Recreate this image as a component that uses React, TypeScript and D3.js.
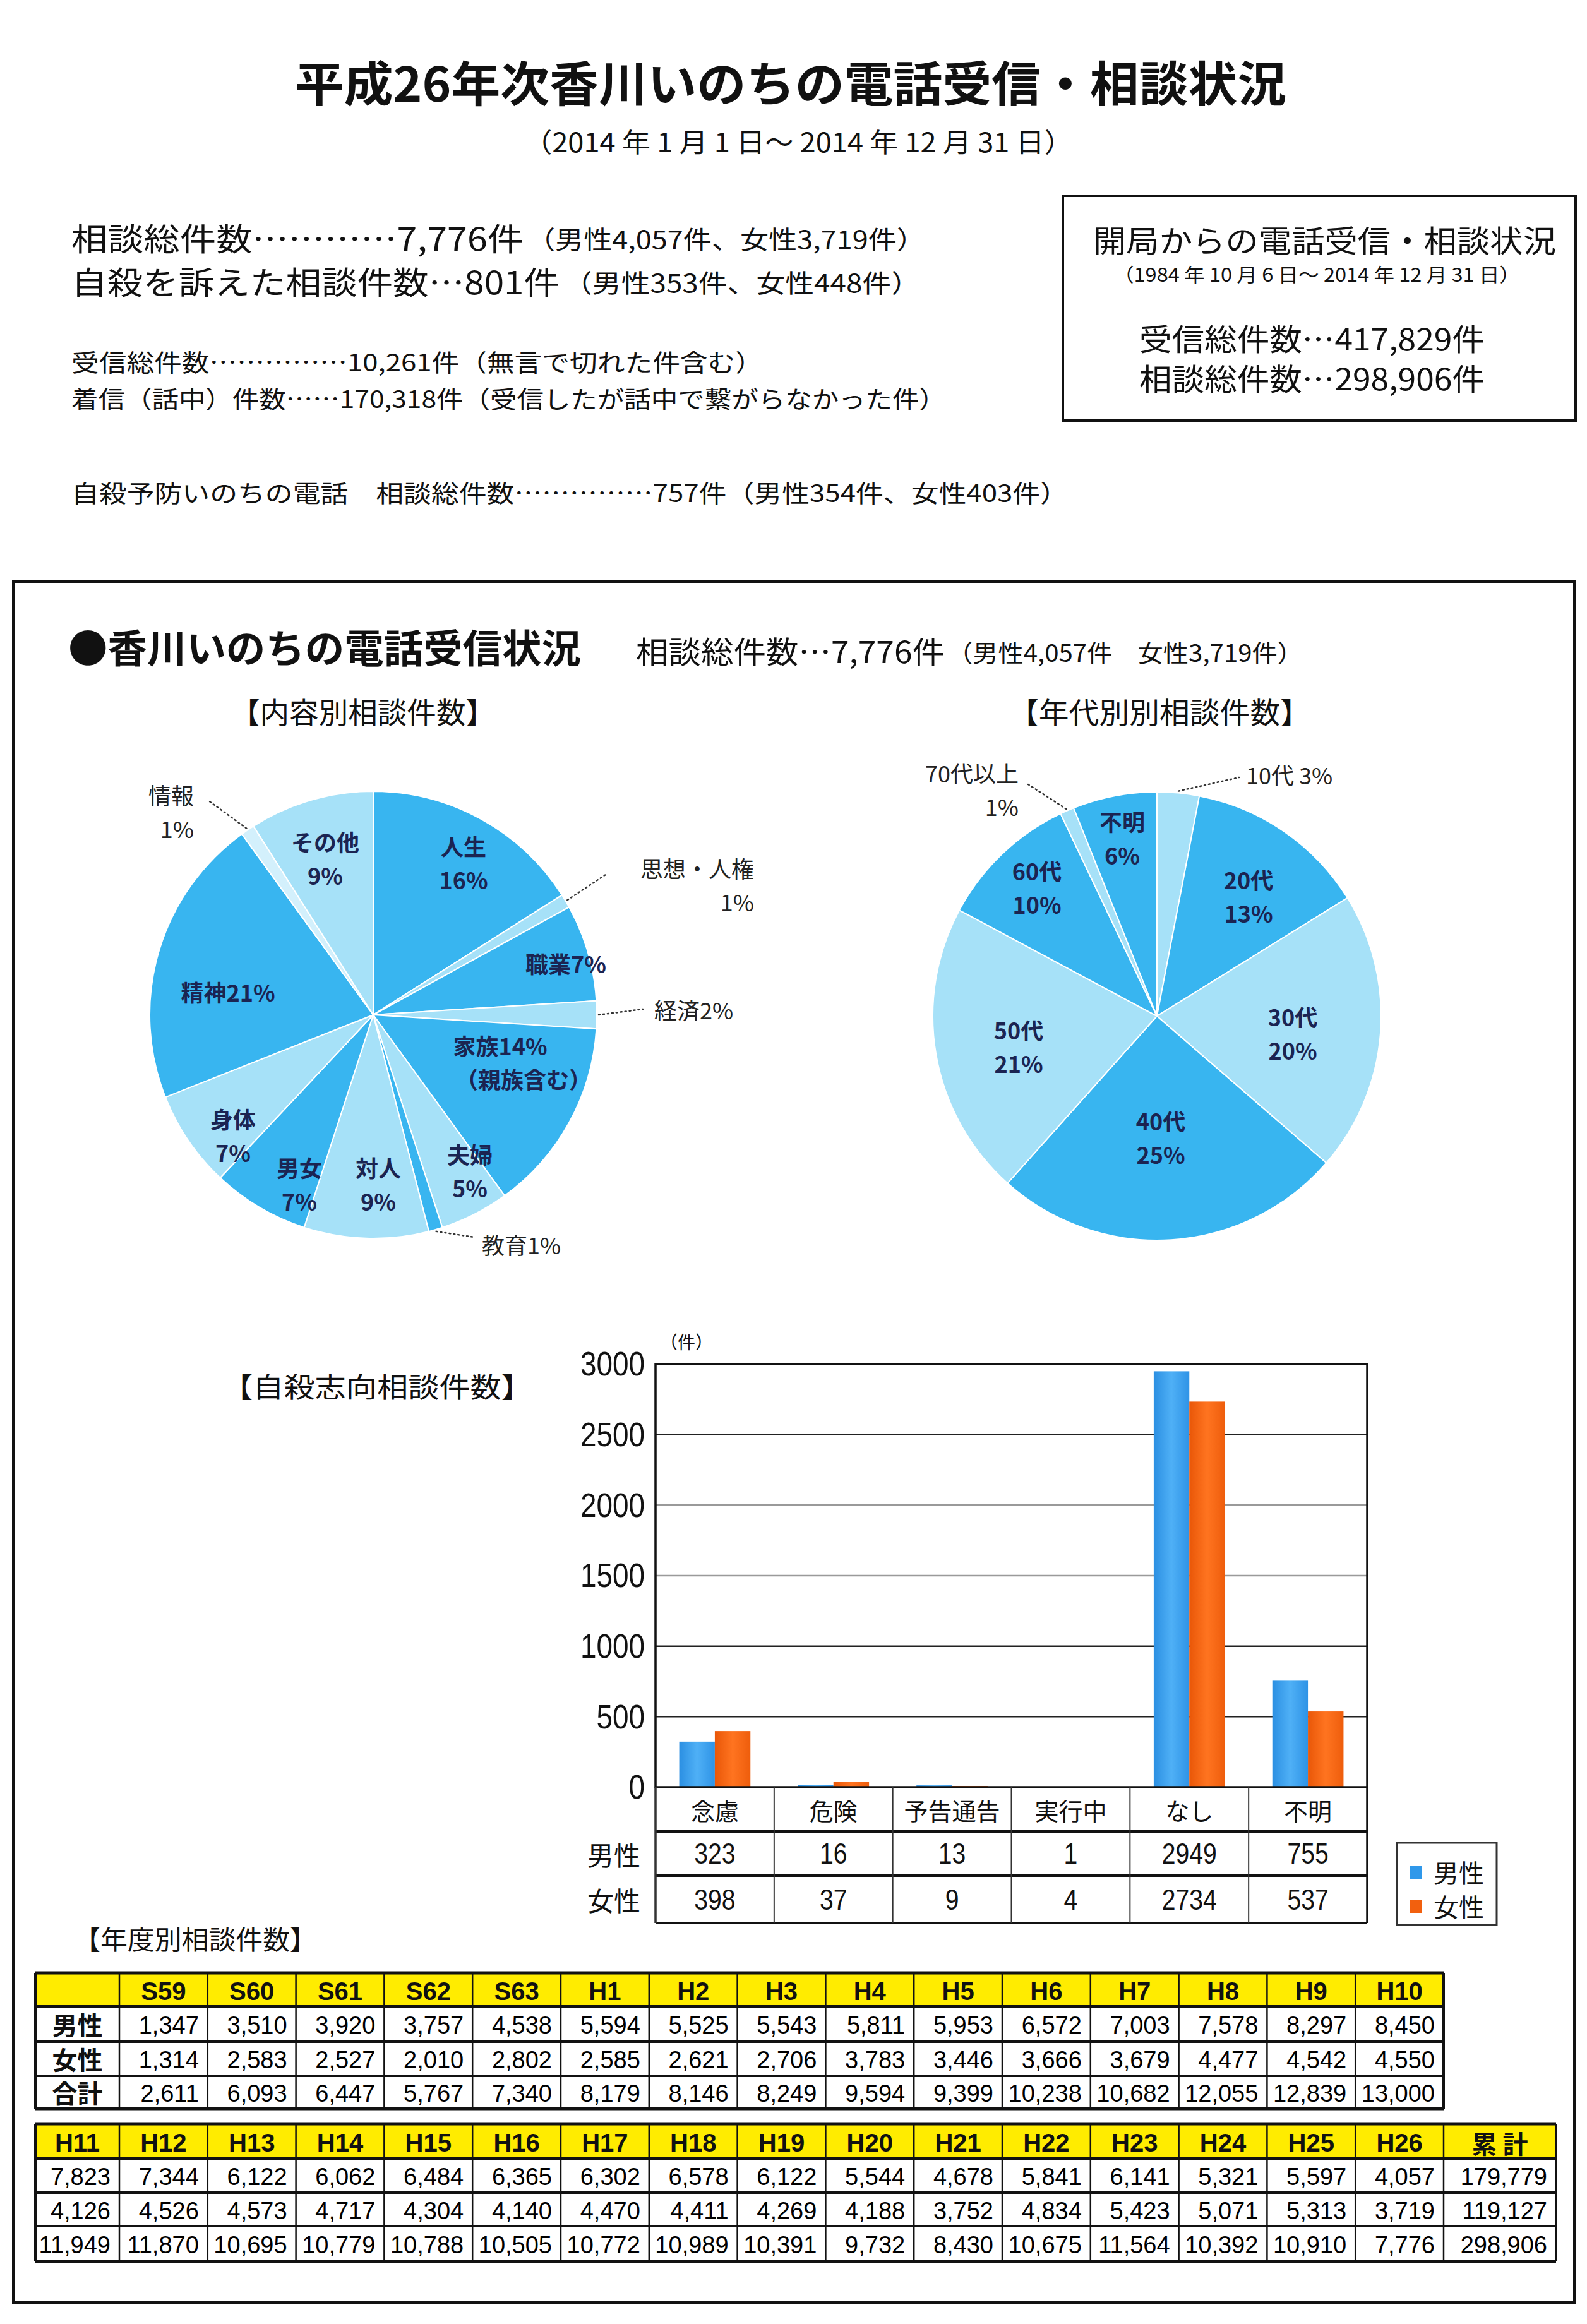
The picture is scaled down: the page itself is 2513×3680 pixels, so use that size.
import React from "react";
import * as d3 from "d3";

const W = 2513;
const H = 3680;
const JP = "'Noto Sans CJK JP', 'Noto Sans', sans-serif";
const NUM = "'Liberation Sans', Arial, sans-serif";

// 内容別相談件数 (%)
const topicLabels = ["人生", "思想・人権", "職業", "経済", "家族", "夫婦", "教育", "対人", "男女", "身体", "精神", "情報", "その他"];
const topicPercents = [16, 1, 7, 2, 14, 5, 1, 9, 7, 7, 21, 1, 9];

// 年代別相談件数 (%)
const ageLabels = ["10代", "20代", "30代", "40代", "50代", "60代", "70代以上", "不明"];
const agePercents = [3, 13, 20, 25, 21, 10, 1, 6];

// 自殺志向相談件数
const suicideCategories = ["念慮", "危険", "予告通告", "実行中", "なし", "不明"];
const suicideMale = [323, 16, 13, 1, 2949, 755];
const suicideFemale = [398, 37, 9, 4, 2734, 537];
const suicideTicks = [0, 500, 1000, 1500, 2000, 2500, 3000];

// 年度別相談件数
const yearsA = ["S59", "S60", "S61", "S62", "S63", "H1", "H2", "H3", "H4", "H5", "H6", "H7", "H8", "H9", "H10"];
const maleA = ["1,347", "3,510", "3,920", "3,757", "4,538", "5,594", "5,525", "5,543", "5,811", "5,953", "6,572", "7,003", "7,578", "8,297", "8,450"];
const femaleA = ["1,314", "2,583", "2,527", "2,010", "2,802", "2,585", "2,621", "2,706", "3,783", "3,446", "3,666", "3,679", "4,477", "4,542", "4,550"];
const totalA = ["2,611", "6,093", "6,447", "5,767", "7,340", "8,179", "8,146", "8,249", "9,594", "9,399", "10,238", "10,682", "12,055", "12,839", "13,000"];

const yearsB = ["H11", "H12", "H13", "H14", "H15", "H16", "H17", "H18", "H19", "H20", "H21", "H22", "H23", "H24", "H25", "H26", "累 計"];
const maleB = ["7,823", "7,344", "6,122", "6,062", "6,484", "6,365", "6,302", "6,578", "6,122", "5,544", "4,678", "5,841", "6,141", "5,321", "5,597", "4,057", "179,779"];
const femaleB = ["4,126", "4,526", "4,573", "4,717", "4,304", "4,140", "4,470", "4,411", "4,269", "4,188", "3,752", "4,834", "5,423", "5,071", "5,313", "3,719", "119,127"];
const totalB = ["11,949", "11,870", "10,695", "10,779", "10,788", "10,505", "10,772", "10,989", "10,391", "9,732", "8,430", "10,675", "11,564", "10,392", "10,910", "7,776", "298,906"];

const DARK = "#38b5f0";
const LIGHT = "#a6e1f8";
const PALE = "#d3f0fc";
const topicTones = [DARK, LIGHT, DARK, LIGHT, DARK, LIGHT, DARK, LIGHT, DARK, LIGHT, DARK, PALE, LIGHT];
const ageTones = [LIGHT, DARK, LIGHT, DARK, LIGHT, DARK, LIGHT, DARK];

// label placement relative to each pie centre
const topicLabelLayout: any[] = [
  { dx: 143, dy: -265 },
  { dx: 603, dy: -230, anchor: "end", leader: [368, -222], outside: true },
  { dx: 305, dy: -82, one: true },
  { dx: 445, dy: -9, anchor: "start", one: true, leader: [427, -9], outside: true },
  { dx: 201, dy: 51, one: true, extra: "（親族含む）", extraDx: 37 },
  { dx: 153, dy: 223 },
  { dx: 172, dy: 363, anchor: "start", one: true, leader: [160, 352], outside: true },
  { dx: 8, dy: 244 },
  { dx: -117, dy: 244 },
  { dx: -222, dy: 167 },
  { dx: -230, dy: -37, one: true },
  { dx: -284, dy: -346, anchor: "end", leader: [-262, -340], outside: true },
  { dx: -76, dy: -272 },
];
const ageLabelLayout: any[] = [
  { dx: 141, dy: -383, anchor: "start", one: true, sep: " ", leader: [130, -378], outside: true },
  { dx: 145, dy: -214 },
  { dx: 215, dy: 3 },
  { dx: 6, dy: 168 },
  { dx: -219, dy: 24 },
  { dx: -190, dy: -228 },
  { dx: -219, dy: -383, anchor: "end", leader: [-207, -369], outside: true },
  { dx: -55, dy: -306 },
];

function Txt({ x, y, size, w, anchor = "start", weight = 400, family = JP, fill = "#111", children }: any) {
  return (
    <text
      x={x}
      y={y}
      fontSize={size}
      fontFamily={family}
      fontWeight={weight}
      textAnchor={anchor}
      dominantBaseline="central"
      fill={fill}
      textLength={w}
      lengthAdjust={w ? "spacingAndGlyphs" : undefined}
    >
      {children}
    </text>
  );
}

function Pie({ cx, cy, r, labels, values, tones, layout }: any) {
  const arcs = d3.pie<number>().sort(null).value((d) => d)(values);
  const arc = d3.arc<any>().innerRadius(0).outerRadius(r);
  const fs = 36;
  const lh = 53;
  return (
    <g transform={`translate(${cx},${cy})`}>
      {arcs.map((a, i) => (
        <path key={i} d={arc(a) || ""} fill={tones[i]} stroke="#ffffff" strokeWidth={2} />
      ))}
      {arcs.map((a, i) => {
        const L = layout[i];
        const pct = values[i] + "%";
        const anchor = L.anchor || "middle";
        const weight = L.outside ? 400 : 700;
        const fill = L.outside ? "#222" : "#1b2452";
        const mid = (a.startAngle + a.endAngle) / 2;
        const sx = Math.sin(mid) * (r + 3);
        const sy = -Math.cos(mid) * (r + 3);
        const first = L.one ? labels[i] + (L.sep || "") + pct : labels[i];
        const second = L.extra ? L.extra : L.one ? null : pct;
        const y0 = second ? L.dy - 3 : L.dy;
        return (
          <g key={"l" + i}>
            {L.leader && (
              <line x1={sx} y1={sy} x2={L.leader[0]} y2={L.leader[1]} stroke="#333" strokeWidth={2.5} strokeDasharray="2 5" strokeLinecap="round" />
            )}
            <text
              x={L.dx}
              y={y0}
              fontSize={fs}
              fontFamily={JP}
              fontWeight={weight}
              textAnchor={anchor}
              dominantBaseline="central"
              fill={fill}
            >
              <tspan x={L.dx}>{first}</tspan>
              {second && (
                <tspan x={L.dx + (L.extraDx || 0)} dy={lh}>
                  {second}
                </tspan>
              )}
            </text>
          </g>
        );
      })}
    </g>
  );
}

function BarChart() {
  const plot = { l: 1038, r: 2165, t: 2160, b: 2830 };
  const rowB = [2830, 2900, 2970, 3045];
  const x0 = d3.scaleBand().domain(suicideCategories).range([plot.l, plot.r]);
  const bw = x0.bandwidth();
  const x1 = d3.scaleBand().domain(["男性", "女性"]).range([bw * 0.2, bw * 0.8]);
  const y = d3.scaleLinear().domain([0, 3000]).range([plot.b, plot.t]);
  const series = [
    { key: "男性", values: suicideMale, fill: "url(#gMale)" },
    { key: "女性", values: suicideFemale, fill: "url(#gFemale)" },
  ];
  return (
    <g>
      <defs>
        <linearGradient id="gMale" x1="0" x2="1" y1="0" y2="0">
          <stop offset="0" stopColor="#2b8fe2" />
          <stop offset="0.5" stopColor="#4fb0f6" />
          <stop offset="1" stopColor="#2e93e6" />
        </linearGradient>
        <linearGradient id="gFemale" x1="0" x2="1" y1="0" y2="0">
          <stop offset="0" stopColor="#e95708" />
          <stop offset="0.5" stopColor="#ff7420" />
          <stop offset="1" stopColor="#ee5d0c" />
        </linearGradient>
      </defs>
      {suicideTicks.slice(1, -1).map((t) => (
        <line key={t} x1={plot.l} x2={plot.r} y1={y(t)} y2={y(t)} stroke={t === 1500 || t === 2000 ? "#9a9a9a" : "#222"} strokeWidth={2.5} />
      ))}
      {suicideTicks.map((t) => (
        <text key={"t" + t} transform={`translate(1021,${y(t)}) scale(0.85,1)`} fontSize={54} fontFamily={NUM} textAnchor="end" dominantBaseline="central" fill="#111">
          {t}
        </text>
      ))}
      <Txt x={1087} y={2124} size={28} anchor="middle">（件）</Txt>
      {series.map((s) =>
        s.values.map((v, i) => (
          <rect
            key={s.key + i}
            x={(x0(suicideCategories[i]) || 0) + (x1(s.key) || 0)}
            y={y(v)}
            width={x1.bandwidth()}
            height={plot.b - y(v)}
            fill={s.fill}
          />
        ))
      )}
      <rect x={plot.l} y={plot.t} width={plot.r - plot.l} height={plot.b - plot.t} fill="none" stroke="#111" strokeWidth={3.5} />
      {/* data table */}
      {rowB.slice(1).map((yy, i) => (
        <line key={"h" + i} x1={plot.l} x2={plot.r} y1={yy} y2={yy} stroke="#111" strokeWidth={4} />
      ))}
      {suicideCategories.map((c, i) => (
        <line key={"v" + i} x1={x0(c)} x2={x0(c)} y1={plot.b} y2={rowB[3]} stroke="#333" strokeWidth={i === 0 ? 3.5 : 2} />
      ))}
      <line x1={plot.r} x2={plot.r} y1={plot.b} y2={rowB[3]} stroke="#111" strokeWidth={3.5} />
      {suicideCategories.map((c, i) => {
        const cx = (x0(c) || 0) + bw / 2;
        return (
          <g key={"c" + i}>
            <Txt x={cx} y={(rowB[0] + rowB[1]) / 2} size={38} anchor="middle">{c}</Txt>
            <text transform={`translate(${cx},${(rowB[1] + rowB[2]) / 2}) scale(0.85,1)`} fontSize={46} fontFamily={NUM} textAnchor="middle" dominantBaseline="central" fill="#111">
              {suicideMale[i]}
            </text>
            <text transform={`translate(${cx},${(rowB[2] + rowB[3]) / 2}) scale(0.85,1)`} fontSize={46} fontFamily={NUM} textAnchor="middle" dominantBaseline="central" fill="#111">
              {suicideFemale[i]}
            </text>
          </g>
        );
      })}
      <Txt x={972} y={(rowB[1] + rowB[2]) / 2} size={42} anchor="middle">男性</Txt>
      <Txt x={972} y={(rowB[2] + rowB[3]) / 2} size={42} anchor="middle">女性</Txt>
      {/* legend */}
      <rect x={2212} y={2918} width={158} height={130} fill="#fff" stroke="#333" strokeWidth={3} />
      <rect x={2232} y={2954} width={19} height={21} fill="#2f98ea" />
      <Txt x={2270} y={2964} size={40} anchor="start">男性</Txt>
      <rect x={2232} y={3008} width={19} height={21} fill="#f2600e" />
      <Txt x={2270} y={3018} size={40} anchor="start">女性</Txt>
    </g>
  );
}

function YearTable({ cols, rowYs, headers, rows, rowLabels, labelCol }: any) {
  const right = cols[cols.length - 1][1];
  const all = labelCol ? [labelCol, ...cols] : cols;
  const x0 = all[0][0];
  return (
    <g>
      <rect x={x0} y={rowYs[0]} width={right - x0} height={rowYs[1] - rowYs[0]} fill="#ffec00" />
      {rowYs.map((yy: number, i: number) => (
        <line key={"h" + i} x1={x0} x2={right} y1={yy} y2={yy} stroke="#111" strokeWidth={i === 0 || i === rowYs.length - 1 ? 5 : 4} />
      ))}
      {[...all.map((c: number[]) => c[0]), right].map((xx: number, i: number) => (
        <line key={"v" + i} x1={xx} x2={xx} y1={rowYs[0]} y2={rowYs[rowYs.length - 1]} stroke="#111" strokeWidth={i === 0 || xx === right ? 4 : 2.5} />
      ))}
      {headers.map((h: string, i: number) => (
        <Txt key={"hd" + i} x={(cols[i][0] + cols[i][1]) / 2} y={(rowYs[0] + rowYs[1]) / 2 + 2} size={40} anchor="middle" weight={700} family={h.includes("計") ? JP : NUM}>
          {h}
        </Txt>
      ))}
      {rows.map((row: string[], r: number) =>
        row.map((v: string, i: number) => (
          <Txt key={r + "-" + i} x={cols[i][1] - 14} y={(rowYs[r + 1] + rowYs[r + 2]) / 2 + 2} size={38} anchor="end" family={NUM} fill="#000">
            {v}
          </Txt>
        ))
      )}
      {labelCol &&
        rowLabels.map((l: string, r: number) => (
          <Txt key={"rl" + r} x={(labelCol[0] + labelCol[1]) / 2} y={(rowYs[r + 1] + rowYs[r + 2]) / 2} size={40} anchor="middle" weight={700}>
            {l}
          </Txt>
        ))}
    </g>
  );
}

export default function App() {
  const bandA = d3.scaleBand().domain(yearsA).range([189, 2286]);
  const colsA = yearsA.map((yr) => [bandA(yr) || 0, (bandA(yr) || 0) + bandA.bandwidth()]);
  const midB = yearsB.slice(1, 16);
  const bandB = d3.scaleBand().domain(midB).range([189, 2286]);
  const colsB = [
    [56, 189],
    ...midB.map((yr) => [bandB(yr) || 0, (bandB(yr) || 0) + bandB.bandwidth()]),
    [2286, 2464],
  ];

  return (
    <svg width={W} height={H} style={{ position: "absolute", left: 0, top: 0, background: "#fff" }} xmlns="http://www.w3.org/2000/svg">
      <rect width={W} height={H} fill="#fff" />
      {/* header block */}
      <Txt x={1252} y={128} size={76} w={1570} anchor="middle" weight={700}>平成26年次香川いのちの電話受信・相談状況</Txt>
      <Txt x={1264} y={222} size={42} w={870} anchor="middle">（2014 年 1 月 1 日～ 2014 年 12 月 31 日）</Txt>

      <Txt x={113} y={375} size={50} w={716}>相談総件数…………7,776件</Txt>
      <Txt x={834} y={377} size={40} w={631}>（男性4,057件、女性3,719件）</Txt>
      <Txt x={113} y={444} size={50} w={773}>自殺を訴えた相談件数…801件</Txt>
      <Txt x={892} y={446} size={40} w={565}>（男性353件、女性448件）</Txt>
      <Txt x={113} y={571} size={38} w={1095}>受信総件数……………10,261件（無言で切れた件含む）</Txt>
      <Txt x={113} y={629} size={38} w={1385}>着信（話中）件数……170,318件（受信したが話中で繋がらなかった件）</Txt>
      <Txt x={113} y={778} size={38} w={1578}>自殺予防いのちの電話　相談総件数……………757件（男性354件、女性403件）</Txt>

      <rect x={1683} y={310} width={812} height={356} fill="none" stroke="#111" strokeWidth={4} />
      <Txt x={1731} y={378} size={48} w={733}>開局からの電話受信・相談状況</Txt>
      <Txt x={1763} y={433} size={30} w={644}>（1984 年 10 月 6 日～ 2014 年 12 月 31 日）</Txt>
      <Txt x={1804} y={534} size={48} w={547}>受信総件数…417,829件</Txt>
      <Txt x={1804} y={597} size={48} w={547}>相談総件数…298,906件</Txt>

      {/* main frame */}
      <rect x={21} y={921} width={2472} height={2725} fill="none" stroke="#111" strokeWidth={4} />
      <Txt x={108} y={1023} size={62} w={812} weight={700}>●香川いのちの電話受信状況</Txt>
      <Txt x={1007} y={1029} size={48} w={489}>相談総件数…7,776件</Txt>
      <Txt x={1500} y={1031} size={38} w={563}>（男性4,057件　女性3,719件）</Txt>
      <Txt x={365} y={1125} size={46} w={419}>【内容別相談件数】</Txt>
      <Txt x={1597} y={1125} size={46} w={478}>【年代別別相談件数】</Txt>

      <Pie cx={591} cy={1607} r={354} labels={topicLabels} values={topicPercents} tones={topicTones} layout={topicLabelLayout} />
      <Pie cx={1832} cy={1609} r={355} labels={ageLabels} values={agePercents} tones={ageTones} layout={ageLabelLayout} />

      <Txt x={351} y={2194} size={44} w={492}>【自殺志向相談件数】</Txt>
      <BarChart />

      <Txt x={116} y={3068} size={42} w={386}>【年度別相談件数】</Txt>
      <YearTable cols={colsA} labelCol={[56, 189]} rowYs={[3124, 3177, 3233, 3287, 3339]} headers={yearsA} rows={[maleA, femaleA, totalA]} rowLabels={["男性", "女性", "合計"]} />
      <YearTable cols={colsB} rowYs={[3363, 3418, 3472, 3525, 3581]} headers={yearsB} rows={[maleB, femaleB, totalB]} rowLabels={[]} />
    </svg>
  );
}
